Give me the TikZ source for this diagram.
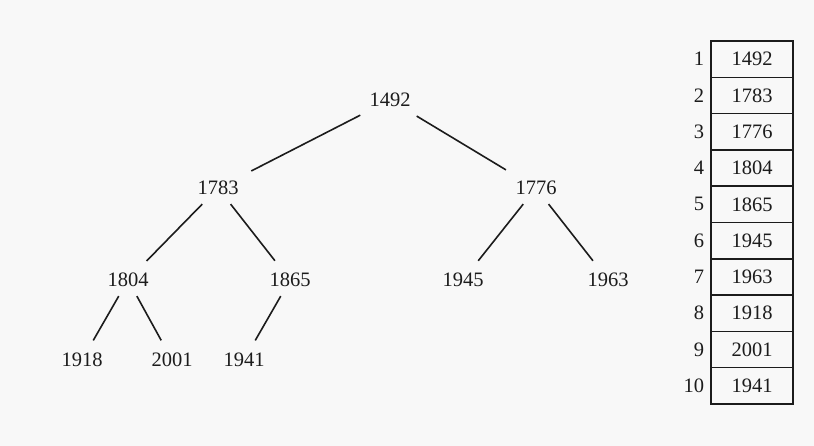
\documentclass[tikz,border=0pt]{standalone}
\usepackage{fontspec}
\setmainfont{Liberation Serif}
\definecolor{bg}{HTML}{F8F8F8}
\definecolor{ink}{HTML}{1C1C1C}

\begin{document}
\begin{tikzpicture}[x=1pt, y=-1pt,
    every node/.style={font=\fontsize{20.5}{24}\selectfont, text=ink},
    key/.style={inner xsep=9pt, inner ysep=9pt},
    cell/.style={draw=ink, line width=1.5pt, minimum width=82pt, minimum height=36.3pt, inner sep=0pt},
    link/.style={draw=ink, line width=1.6pt, shorten >=4pt}]

    \fill[bg] (0,0) rectangle (814,446);

    % heap drawn as a tree
    \node[key] at (390, 100) (k1492) {1492};
    \node[key] at (218, 188) (k1783) {1783};
    \node[key] at (536, 188) (k1776) {1776};
    \node[key] at (128, 280) (k1804) {1804};
    \node[key] at (290, 280) (k1865) {1865};
    \node[key] at (463, 280) (k1945) {1945};
    \node[key] at (608, 280) (k1963) {1963};
    \node[key] at ( 82, 360) (k1918) {1918};
    \node[key] at (172, 360) (k2001) {2001};
    \node[key] at (244, 360) (k1941) {1941};

    \path[link] (k1492) edge (k1783) node {};
    \path[link] (k1492) edge (k1776) node {};
    \path[link] (k1783) edge (k1804) node {};
    \path[link] (k1783) edge (k1865) node {};
    \path[link] (k1776) edge (k1945) node {};
    \path[link] (k1776) edge (k1963) node {};
    \path[link] (k1804) edge (k1918) node {};
    \path[link] (k1804) edge (k2001) node {};
    \path[link] (k1865) edge (k1941) node {};

    % same heap as an array
    \foreach \val [count=\i] in {1492,1783,1776,1804,1865,1945,1963,1918,2001,1941} {
        \node[cell] at (752, {41+36.3*(\i-0.5)}) (cell\i) {\val};
        \node[anchor=east, inner sep=6pt] at (cell\i.west) (idx\i) {\i};
    }

\end{tikzpicture}
\end{document}
